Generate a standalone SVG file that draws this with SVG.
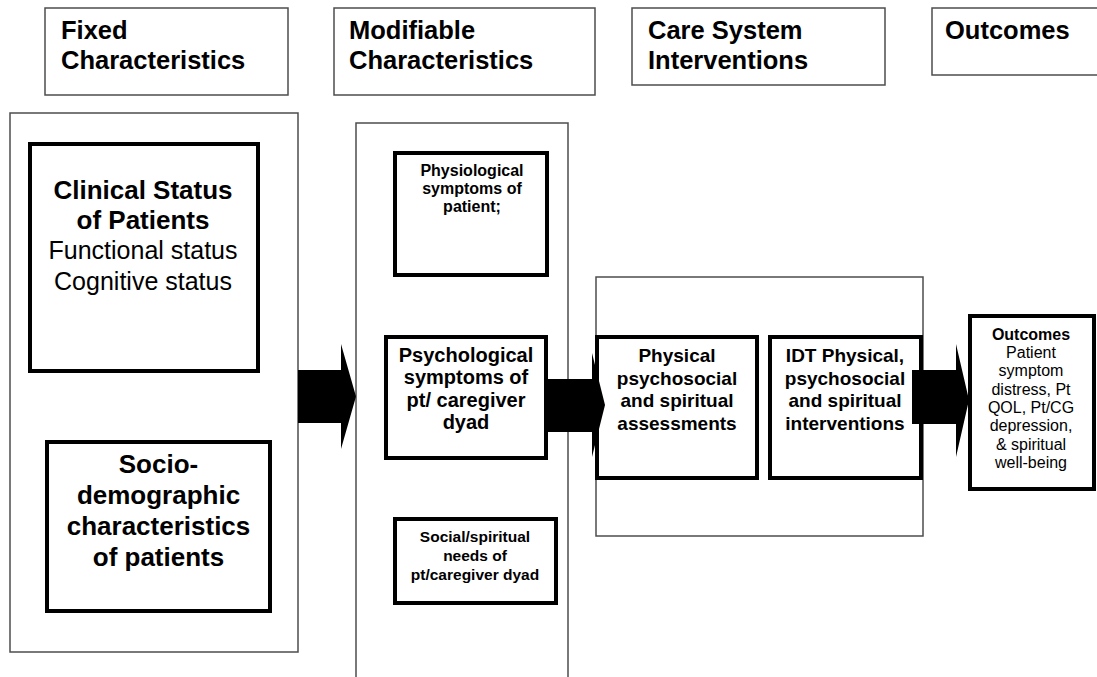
<svg xmlns="http://www.w3.org/2000/svg" width="1097" height="677" viewBox="0 0 1097 677">
<style>
.thin{fill:#fff;stroke:#4d4d4d;stroke-width:1.5}
.thick{fill:#fff;stroke:#000;stroke-width:4}
text{font-family:"Liberation Sans",Arial,Helvetica,sans-serif;fill:#000}
.hdr{font-size:25.5px;font-weight:bold}
.b{font-weight:bold}
.c{text-anchor:middle}
.arrow{fill:#000;stroke:none}
</style>
<rect width="1097" height="677" fill="#fff"/>
<g id="hdr-fixed"><rect class="thin" x="45" y="8" width="243" height="87"/><text class="hdr" x="61" y="39">Fixed</text><text class="hdr" x="61" y="69">Characteristics</text></g>
<g id="hdr-modifiable"><rect class="thin" x="334" y="8" width="261" height="87"/><text class="hdr" x="349" y="39">Modifiable</text><text class="hdr" x="349" y="69">Characteristics</text></g>
<g id="hdr-care"><rect class="thin" x="632" y="8" width="253" height="77"/><text class="hdr" x="648" y="39">Care System</text><text class="hdr" x="648" y="69">Interventions</text></g>
<g id="hdr-outcomes"><rect class="thin" x="932" y="8" width="175" height="67"/><text class="hdr" x="945" y="39">Outcomes</text></g>
<g id="fixed-column"><rect class="thin" x="10" y="113" width="288" height="539"/></g>
<g id="modifiable-column"><rect class="thin" x="356" y="123" width="212" height="570"/></g>
<g id="care-column"><rect class="thin" x="596" y="277" width="327" height="259"/></g>
<g id="clinical"><rect class="thick" x="30" y="144" width="228" height="227"/>
<text class="c b" x="143" y="199" font-size="26">Clinical Status</text>
<text class="c b" x="143" y="229" font-size="26">of Patients</text>
<text class="c" x="143" y="259" font-size="25">Functional status</text>
<text class="c" x="143" y="290" font-size="25">Cognitive status</text></g>
<g id="socio"><rect class="thick" x="47" y="442" width="223" height="169"/>
<text class="c b" x="158.5" y="473" font-size="26">Socio-</text>
<text class="c b" x="158.5" y="504" font-size="26">demographic</text>
<text class="c b" x="158.5" y="535" font-size="26">characteristics</text>
<text class="c b" x="158.5" y="566" font-size="26">of patients</text></g>
<g id="physiological"><rect class="thick" x="395" y="153" width="152" height="122"/>
<text class="c b" x="472" y="176" font-size="16">Physiological</text>
<text class="c b" x="472" y="194" font-size="16">symptoms of</text>
<text class="c b" x="472" y="212" font-size="16">patient;</text></g>
<g id="psychological"><rect class="thick" x="386" y="337" width="160" height="121"/>
<text class="c b" x="466" y="362" font-size="20">Psychological</text>
<text class="c b" x="466" y="384" font-size="20">symptoms of</text>
<text class="c b" x="466" y="406.5" font-size="20">pt/ caregiver</text>
<text class="c b" x="466" y="429" font-size="20">dyad</text></g>
<g id="social"><rect class="thick" x="395" y="519" width="161" height="84"/>
<text class="c b" x="475" y="542" font-size="15.5">Social/spiritual</text>
<text class="c b" x="475" y="561" font-size="15.5">needs of</text>
<text class="c b" x="475" y="580" font-size="15.5">pt/caregiver dyad</text></g>
<g id="assessments"><rect class="thick" x="597" y="337" width="160" height="141"/>
<text class="c b" x="677" y="362" font-size="19">Physical</text>
<text class="c b" x="677" y="384.5" font-size="19">psychosocial</text>
<text class="c b" x="677" y="407" font-size="19">and spiritual</text>
<text class="c b" x="677" y="429.5" font-size="19">assessments</text></g>
<g id="interventions"><rect class="thick" x="770" y="337" width="151" height="141"/>
<text class="c b" x="845" y="362" font-size="19">IDT Physical,</text>
<text class="c b" x="845" y="384.5" font-size="19">psychosocial</text>
<text class="c b" x="845" y="407" font-size="19">and spiritual</text>
<text class="c b" x="845" y="429.5" font-size="19">interventions</text></g>
<g id="outcomes"><rect class="thick" x="970" y="316" width="124" height="173"/>
<text class="c b" x="1031" y="340" font-size="16">Outcomes</text>
<text class="c" x="1031" y="358" font-size="16">Patient</text>
<text class="c" x="1031" y="376" font-size="16">symptom</text>
<text class="c" x="1031" y="395" font-size="16">distress, Pt</text>
<text class="c" x="1031" y="413" font-size="16">QOL, Pt/CG</text>
<text class="c" x="1031" y="431" font-size="16">depression,</text>
<text class="c" x="1031" y="450" font-size="16">&amp; spiritual</text>
<text class="c" x="1031" y="468" font-size="16">well-being</text></g>
<g id="connectors">
<polygon class="arrow" points="298,370 341,370 341,344 356,396.5 341,449 341,423 298,423"/>
<polygon class="arrow" points="548,379 592,379 592,353 605,405 592,457 592,432 548,432"/>
<polygon class="arrow" points="912,370 956,370 956,344 969,400 956,457 956,424 912,424"/>
</g>
</svg>
